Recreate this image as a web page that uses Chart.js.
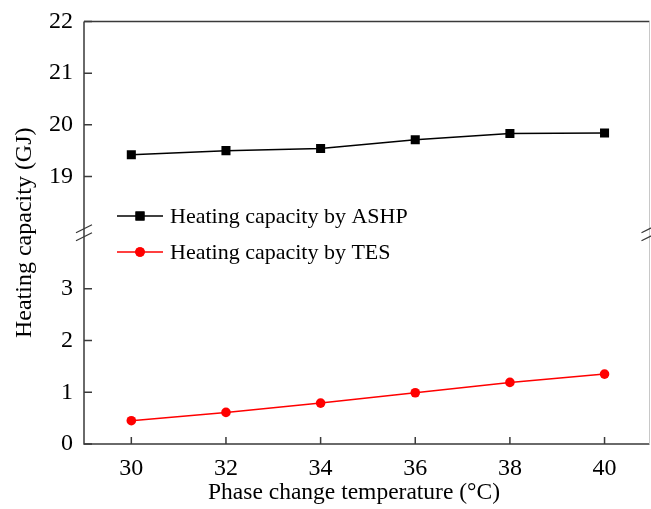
<!DOCTYPE html>
<html lang="en">
<head>
    <meta charset="UTF-8">
    <title>Heating capacity vs phase change temperature</title>
    <style>
        html, body { margin: 0; padding: 0; background: #fff; overflow: hidden; }
        .chart-box { width: 651px; height: 509px; position: relative; }
    </style>
</head>
<body>
    <div class="chart-box">
        <canvas id="heatChart"></canvas>
    </div>

    <script src="https://cdn.jsdelivr.net/npm/chart.js"></script>
    <script>
        // Phase change temperatures (°C)
        const temps = [30, 32, 34, 36, 38, 40];
        // Heating capacity (GJ)
        const ashpValues = [19.42, 19.50, 19.54, 19.71, 19.83, 19.84];
        const tesValues = [0.45, 0.61, 0.79, 0.99, 1.19, 1.35];

        const xTicks = [30, 32, 34, 36, 38, 40];
        const upperTicks = [19, 20, 21, 22];
        const lowerTicks = [0, 1, 2, 3];

        const seriesNames = ['Heating capacity by ASHP', 'Heating capacity by TES'];

        const serif = 'Liberation Serif, Times New Roman, serif';
        const axisColor = '#3a3a3a';

        const toPoints = vals => vals.map((v, i) => ({ x: temps[i], y: v }));

        // keep the plot box where the layout padding puts it
        const noEdgePadding = s => {
            s.paddingTop = 0;
            s.paddingBottom = 0;
            s.paddingLeft = 0;
            s.paddingRight = 0;
        };

        // axes, ticks, break marks, legend and axis titles
        const framePlugin = {
            id: 'frame',
            afterDraw(chart) {
                const ctx = chart.ctx;
                const area = chart.chartArea;
                const up = chart.scales.yUp;
                const low = chart.scales.yLow;
                const x = chart.scales.x;

                ctx.save();
                ctx.strokeStyle = axisColor;
                ctx.lineWidth = 1.5;
                ctx.beginPath();
                ctx.moveTo(area.left, area.top);
                ctx.lineTo(area.left, area.bottom);
                ctx.lineTo(area.right, area.bottom);
                ctx.moveTo(area.left, area.top);
                ctx.lineTo(area.right, area.top);
                ctx.stroke();
                // right edge is barely there
                ctx.strokeStyle = '#c8c8c8';
                ctx.lineWidth = 1;
                ctx.beginPath();
                ctx.moveTo(area.right, area.top);
                ctx.lineTo(area.right, area.bottom);
                ctx.stroke();

                // inward ticks
                ctx.strokeStyle = axisColor;
                ctx.lineWidth = 1.5;
                ctx.beginPath();
                upperTicks.forEach(v => {
                    const y = up.getPixelForValue(v);
                    ctx.moveTo(area.left, y);
                    ctx.lineTo(area.left + 8, y);
                });
                lowerTicks.forEach(v => {
                    const y = low.getPixelForValue(v);
                    ctx.moveTo(area.left, y);
                    ctx.lineTo(area.left + 8, y);
                });
                xTicks.forEach(v => {
                    const px = x.getPixelForValue(v);
                    ctx.moveTo(px, area.bottom);
                    ctx.lineTo(px, area.bottom - 7);
                });
                ctx.stroke();

                // axis break marks
                const yb = up.bottom;
                ctx.lineWidth = 1.3;
                ctx.beginPath();
                [area.left, area.right].forEach(bx => {
                    ctx.moveTo(bx - 8, yb);
                    ctx.lineTo(bx + 8, yb - 8);
                    ctx.moveTo(bx - 8, yb + 8);
                    ctx.lineTo(bx + 8, yb);
                });
                ctx.stroke();

                // legend
                ctx.font = '22px ' + serif;
                ctx.textBaseline = 'middle';
                ctx.textAlign = 'left';
                const rows = [216, 252];
                chart.data.datasets.forEach((ds, i) => {
                    const ly = rows[i];
                    ctx.strokeStyle = ds.borderColor;
                    ctx.lineWidth = 1.5;
                    ctx.beginPath();
                    ctx.moveTo(117, ly);
                    ctx.lineTo(163, ly);
                    ctx.stroke();
                    ctx.fillStyle = ds.pointBackgroundColor;
                    Chart.helpers.drawPoint(ctx, {
                        pointStyle: ds.pointStyle,
                        radius: ds.pointRadius,
                        rotation: 0,
                        borderWidth: 0
                    }, 140, ly);
                    ctx.fill();
                    ctx.fillStyle = '#000';
                    ctx.fillText(seriesNames[i], 170, ly + 1);
                });

                // x axis title, a bit left of the plot centre
                ctx.font = '23.5px ' + serif;
                ctx.textAlign = 'center';
                ctx.fillText('Phase change temperature (°C)', 354, 493);

                // y axis title
                ctx.font = '24px ' + serif;
                ctx.translate(25, (area.top + area.bottom) / 2);
                ctx.rotate(-Math.PI / 2);
                ctx.fillText('Heating capacity (GJ)', 0, 0);
                ctx.restore();
            }
        };

        const tickFont = { family: serif, size: 24 };

        const ctxHeat = document.getElementById('heatChart').getContext('2d');
        const heatChart = new Chart(ctxHeat, {
            type: 'line',
            data: {
                datasets: [{
                    label: seriesNames[0],
                    data: toPoints(ashpValues),
                    yAxisID: 'yUp',
                    borderColor: '#000',
                    backgroundColor: '#000',
                    pointBackgroundColor: '#000',
                    pointBorderWidth: 0,
                    pointStyle: 'rect',
                    pointRadius: 6.4,
                    borderWidth: 1.5,
                    tension: 0
                }, {
                    label: seriesNames[1],
                    data: toPoints(tesValues),
                    yAxisID: 'yLow',
                    borderColor: '#ff0000',
                    backgroundColor: '#ff0000',
                    pointBackgroundColor: '#ff0000',
                    pointBorderWidth: 0,
                    pointStyle: 'circle',
                    pointRadius: 4.8,
                    borderWidth: 1.5,
                    tension: 0
                }]
            },
            options: {
                responsive: true,
                maintainAspectRatio: false,
                animation: false,
                layout: { autoPadding: false, padding: { top: 21.5, right: 1.5, left: 0, bottom: 0 } },
                plugins: {
                    legend: { display: false },
                    tooltip: { enabled: false }
                },
                scales: {
                    x: {
                        type: 'linear',
                        min: 29,
                        max: 40.95,
                        afterBuildTicks: s => { s.ticks = xTicks.map(v => ({ value: v })); },
                        afterFit: s => { s.height = 65; noEdgePadding(s); },
                        grid: { display: false, drawTicks: false },
                        border: { display: false },
                        ticks: { font: tickFont, color: '#000', padding: 10, maxRotation: 0 }
                    },
                    yLow: {
                        type: 'linear',
                        position: 'left',
                        stack: 'left',
                        stackWeight: 1,
                        min: 0,
                        max: 4.08,
                        afterBuildTicks: s => { s.ticks = lowerTicks.map(v => ({ value: v })); },
                        afterFit: s => { s.width = 84; noEdgePadding(s); },
                        grid: { display: false, drawTicks: false },
                        border: { display: false },
                        ticks: { font: tickFont, color: '#000', padding: 11 }
                    },
                    yUp: {
                        type: 'linear',
                        position: 'left',
                        stack: 'left',
                        stackWeight: 1,
                        min: 17.91,
                        max: 22,
                        afterBuildTicks: s => { s.ticks = upperTicks.map(v => ({ value: v })); },
                        afterFit: s => { s.width = 84; noEdgePadding(s); },
                        grid: { display: false, drawTicks: false },
                        border: { display: false },
                        ticks: { font: tickFont, color: '#000', padding: 11 }
                    }
                }
            },
            plugins: [framePlugin]
        });
    </script>
</body>
</html>
